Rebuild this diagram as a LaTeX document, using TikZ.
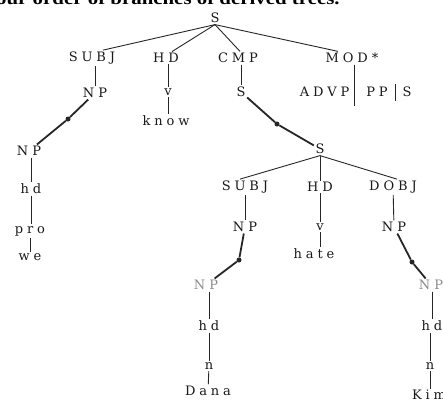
\documentclass[tikz,border=0pt]{standalone}
\usepackage{fontspec}
\setmainfont{DejaVu Serif}[LetterSpace=30]
\newfontfamily\headfont{Liberation Serif}
\begin{document}
\begin{tikzpicture}[x=1pt,y=-1pt,
  lab/.style={font=\fontsize{13}{13}\selectfont, inner sep=1.5pt, text=black!90},
  faint/.style={lab, text=black!45},
  thin/.style={line width=0.9pt, black!85},
  thick/.style={line width=1.8pt, black!85},
  dot/.style={circle, fill=black!85, inner sep=0pt, minimum size=5pt}]
\useasboundingbox (0,0) rectangle (443,399);
\clip (0,0) rectangle (443,399);
% clipped caption line at top
\node[anchor=base west, inner sep=0pt, font=\headfont\bfseries\fontsize{18}{18}\selectfont] (cap) at (-4,4) {\scalebox{1.16}[1]{our order of branches of derived trees.}};
% top level
\node[lab] (S0) at (215,18) {S};
\node[lab] (subj) at (92,58) {SUBJ};
\node[lab] (hd1) at (166,58) {HD};
\node[lab] (cmp) at (238,58) {CMP};
\node[lab] (mod) at (352,58) {MOD*};
\node[lab] (np1) at (95,93) {NP};
\node[lab] (v1) at (168,92) {v};
\node[lab] (know) at (166,121) {know};
\node[lab] (s1) at (241,92) {S};
\node[lab, anchor=east] (advp) at (351,92) {ADVP};
\node[lab] (pp) at (377,92) {PP};
\node[lab] (sx) at (407,92) {S};
\coordinate (bar1b) at (354,106);
\coordinate (bar2t) at (395,84);
\coordinate (bar2b) at (395,101);
% left subtree
\node[dot] (d1) at (68,119) {};
\node[lab] (np2) at (29,151) {NP};
\node[lab] (hd2) at (31,189) {hd};
\node[lab] (pro) at (30,231) {pro};
\node[lab] (we) at (30,257) {we};
% embedded S
\node[dot] (d2) at (277,124) {};
\node[lab] (s2) at (320,149) {S};
\node[lab] (subj2) at (245,187) {SUBJ};
\node[lab] (hd3) at (320,187) {HD};
\node[lab] (dobj) at (393,187) {DOBJ};
\node[lab] (np3) at (245,227) {NP};
\node[lab] (v2) at (320,227) {v};
\node[lab] (hate) at (314,254) {hate};
\node[lab] (np4) at (394,227) {NP};
\node[dot] (d3) at (239,260) {};
\node[dot] (d4) at (412,262) {};
\node[faint] (np5) at (206,285) {NP};
\node[lab] (hd4) at (209,326) {hd};
\node[lab] (n1) at (209,366) {n};
\node[lab] (dana) at (208,391) {Dana};
\node[faint] (np6) at (431,285) {NP};
\node[lab] (hd5) at (432,326) {hd};
\node[lab] (n2) at (430,366) {n};
\node[lab] (kim) at (429,395) {Kim};
% thin connectors
\draw[thin] (S0.south) -- ([xshift=11pt]subj.north);
\draw[thin] (S0.south) -- ([xshift=6pt]hd1.north);
\draw[thin] (S0.south) -- ([xshift=2pt]cmp.north);
\draw[thin] (S0.south) -- ([xshift=-14pt]mod.north);
\draw[thin] (subj.south -| np1) -- (np1);
\draw[thin] (hd1.south -| v1) -- (v1);
\draw[thin] (v1) -- (know.north -| v1);
\draw[thin] (cmp.south -| s1) -- (s1);
\draw[thin] (mod.south -| bar1b) -- (bar1b);
\draw[thin] (bar2t) -- (bar2b);
\draw[thin] (np2.south -| hd2) -- (hd2);
\draw[thin] (hd2) -- (pro.north -| hd2);
\draw[thin] (pro) -- (we);
\draw[thin] (s2.south) -- ([xshift=-5pt]subj2.north);
\draw[thin] (s2) -- (hd3);
\draw[thin] (s2.south) -- ([xshift=4pt]dobj.north);
\draw[thin] (subj2) -- (np3);
\draw[thin] (hd3) -- (v2);
\draw[thin] (v2) -- (hate.north -| v2);
\draw[thin] (dobj) -- (np4);
\draw[thin] (np5.south -| hd4) -- (hd4);
\draw[thin] (hd4) -- (n1.north -| hd4);
\draw[thin] (n1) -- (dana);
\draw[thin] (np6.south -| hd5) -- (hd5);
\draw[thin] (hd5.south -| n2) -- (n2);
\draw[thin] (n2) -- (kim.north -| n2);
% thick connectors
\draw[thick] (np1) -- (d1) -- (np2);
\draw[thick] (s1) -- (d2) -- (s2);
\draw[thick] (np3) -- (d3) -- (np5);
\draw[thick] (np4) -- (d4) -- (np6);
\end{tikzpicture}
\end{document}
